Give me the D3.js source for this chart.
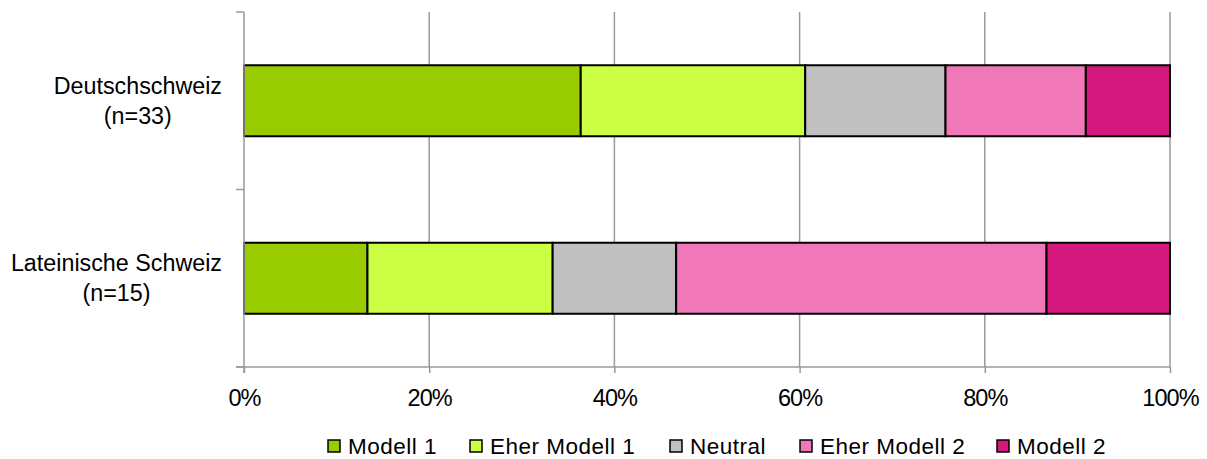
<!DOCTYPE html>
<html><head><meta charset="utf-8">
<script src="https://cdn.jsdelivr.net/npm/d3@7"></script>
<style>
html,body{margin:0;padding:0;background:#fff;}
text{font-family:"Liberation Sans",Arial,sans-serif;fill:#000;}
</style></head>
<body>
<svg id="c" width="1207" height="459"></svg>
<script>
const categories = [["Deutschschweiz","(n=33)"],["Lateinische Schweiz","(n=15)"]];
const seriesNames = ["Modell 1","Eher Modell 1","Neutral","Eher Modell 2","Modell 2"];
const seriesColors = ["#99CC00","#CCFF44","#C0C0C0","#F078B8","#D5187D"];
// shares per category (fractions)
const modell1     = [12/33, 2/15];
const eherModell1 = [8/33, 3/15];
const neutral     = [5/33, 2/15];
const eherModell2 = [5/33, 6/15];
const modell2     = [3/33, 2/15];
const xTicks = [0,0.2,0.4,0.6,0.8,1.0];

const series = [modell1, eherModell1, neutral, eherModell2, modell2];
const svg = d3.select("#c");
const L = 244, R = 1170, T = 12, B = 367;
const x = d3.scaleLinear().domain([0,1]).range([L,R]);
const y = d3.scaleBand().domain(d3.range(categories.length)).range([T,B]).paddingInner(0.6).paddingOuter(0.3);
const yb = d3.scaleBand().domain(d3.range(categories.length)).range([T,B]);

// gridlines
svg.append("g").selectAll("line").data(xTicks.slice(1)).join("line")
  .attr("x1",d=>x(d)).attr("x2",d=>x(d)).attr("y1",T).attr("y2",B)
  .attr("stroke","#9a9a9a").attr("stroke-width",1.5);

// bars
const stackData = categories.map((c,i)=>{
  let acc=0; return series.map((s,k)=>{const r={k,i,x0:acc,x1:acc+s[i]}; acc+=s[i]; return r;});
}).flat();
svg.append("g").selectAll("rect").data(stackData).join("rect")
  .attr("x",d=>x(d.x0)).attr("width",d=>x(d.x1)-x(d.x0))
  .attr("y",d=>y(d.i)).attr("height",y.bandwidth())
  .attr("fill",d=>seriesColors[d.k]).attr("stroke","#000").attr("stroke-width",2);

// x axis
const xa = svg.append("g").attr("transform",`translate(0,${B})`)
  .call(d3.axisBottom(x).tickValues(xTicks).tickFormat(d3.format(".0%")).tickSize(6).tickSizeOuter(0));
xa.select(".domain").attr("stroke","#9a9a9a").attr("stroke-width",1.5).attr("d",`M${L-8},0H${R}`);
xa.selectAll(".tick line").attr("stroke","#9a9a9a").attr("stroke-width",1.5);
xa.selectAll(".tick text").attr("font-size",23.5).attr("letter-spacing","-0.9px").attr("dy",null).attr("y",39).attr("font-family",null);

// y axis
svg.append("line").attr("x1",L).attr("x2",L).attr("y1",T).attr("y2",B+6).attr("stroke","#9a9a9a").attr("stroke-width",1.5);
svg.append("g").selectAll("line").data(d3.range(categories.length+1)).join("line")
  .attr("x1",L-8).attr("x2",L).attr("y1",d=>d<categories.length?yb(d):B).attr("y2",d=>d<categories.length?yb(d):B)
  .attr("stroke","#9a9a9a").attr("stroke-width",1.5);

// category labels
const lab = svg.append("g").selectAll("g").data(categories).join("g");
lab.each(function(c,i){
  const g = d3.select(this);
  const cy = y(i)+y.bandwidth()/2;
  const t1 = g.append("text").attr("font-size",23.3).attr("text-anchor","end")
    .attr("x",222).attr("y",cy-7).text(c[0]);
  const w1 = t1.node().getComputedTextLength();
  const cx = 222 - w1/2;
  t1.attr("text-anchor","middle").attr("x",cx);
  g.append("text").attr("font-size",23.3).attr("text-anchor","middle")
    .attr("x",cx).attr("y",cy+23).text(c[1]);
});

// legend
const lx = [328,470,670,800,997];
const lg = svg.append("g").selectAll("g").data(seriesNames).join("g")
  .attr("transform",(d,i)=>`translate(${lx[i]},440)`);
lg.append("rect").attr("width",12).attr("height",12).attr("fill",(d,i)=>seriesColors[i]).attr("stroke","#000").attr("stroke-width",1.5);
lg.append("text").attr("x",20).attr("y",14).attr("font-size",22.5).attr("letter-spacing","0.5px").text(d=>d);
</script>
</body></html>
